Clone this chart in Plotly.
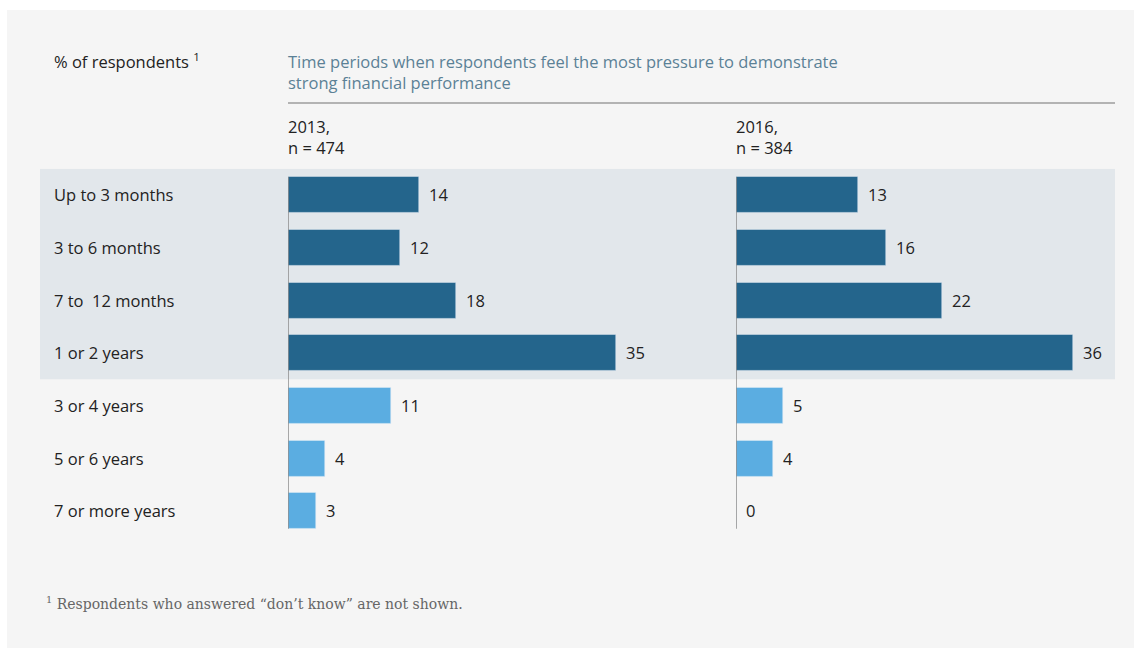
import plotly.graph_objects as go

categories = ["Up to 3 months", "3 to 6 months", "7 to  12 months", "1 or 2 years",
              "3 or 4 years", "5 or 6 years", "7 or more years"]
values_2013 = [14, 12, 18, 35, 11, 4, 3]
values_2016 = [13, 16, 22, 36, 5, 4, 0]
short_term = [True, True, True, True, False, False, False]
panel_titles = ["2013,<br>n = 474", "2016,<br>n = 384"]

DARK = "#24658c"
LIGHT = "#5badE1"
TXT = "#222222"
FONT = "Open Sans"
FS = 16.5

W, H = 1134, 648
def px(x):
    return x / W
def py(y):
    return 1 - y / H

colors = [DARK if s else LIGHT for s in short_term]
idx = list(range(len(categories)))

fig = go.Figure()
fig.add_trace(go.Bar(x=values_2013, y=idx, orientation="h", marker_color=colors,
                     width=0.68, xaxis="x", yaxis="y", hoverinfo="skip"))
fig.add_trace(go.Bar(x=values_2016, y=idx, orientation="h", marker_color=colors,
                     width=0.68, xaxis="x2", yaxis="y", hoverinfo="skip"))

XMAX = 40
scale = 9.36
x1d = [px(288), px(288 + XMAX * scale)]
x2d = [px(736), px(736 + XMAX * scale)]
ydom = [py(537.3), py(168.67)]

ax = dict(range=[0, XMAX], showgrid=False, zeroline=False, showticklabels=False,
          showline=False, ticks="", fixedrange=True)
fig.update_layout(
    width=W, height=H, margin=dict(l=0, r=0, t=0, b=0),
    paper_bgcolor="white", plot_bgcolor="rgba(0,0,0,0)",
    showlegend=False, bargap=0,
    xaxis=dict(domain=x1d, anchor="y", **ax),
    xaxis2=dict(domain=x2d, anchor="y", **ax),
    yaxis=dict(domain=ydom, range=[6.5, -0.5], showgrid=False, zeroline=False,
               showticklabels=False, ticks="", fixedrange=True),
    font=dict(family=FONT, color=TXT),
)

shapes = []
shapes.append(dict(type="rect", xref="paper", yref="paper", x0=px(7), x1=1, y0=0, y1=py(10),
                   fillcolor="#f5f5f5", line_width=0, layer="below"))
shapes.append(dict(type="rect", xref="paper", yref="y", x0=px(40), x1=px(1115), y0=-0.5, y1=3.5,
                   fillcolor="#e2e7eb", line_width=0, layer="below"))
shapes.append(dict(type="line", xref="paper", yref="paper", x0=px(288), x1=px(1115),
                   y0=py(103), y1=py(103), line=dict(color="#b3b3b3", width=2)))
for xr in ["x", "x2"]:
    shapes.append(dict(type="line", xref=xr, yref="y", x0=0, x1=0, y0=-0.34, y1=6.34,
                       line=dict(color="#8c8c8c", width=1.5)))
fig.update_layout(shapes=shapes)

ann = []
for i, c in enumerate(categories):
    ann.append(dict(text=c, xref="paper", yref="y", x=px(52), y=i, xanchor="left",
                    yanchor="middle", showarrow=False, font=dict(size=FS, color=TXT)))
for xr, vals in [("x", values_2013), ("x2", values_2016)]:
    for i, v in enumerate(vals):
        ann.append(dict(text=str(v), xref=xr, yref="y", x=v, y=i, xanchor="left",
                        yanchor="middle", xshift=8, showarrow=False,
                        font=dict(size=FS, color=TXT)))
ann.append(dict(text="% of respondents <sup>1</sup>", xref="paper", yref="paper",
                x=px(52), y=py(61), xanchor="left", yanchor="middle", showarrow=False,
                font=dict(size=FS, color=TXT)))
ann.append(dict(text="Time periods when respondents feel the most pressure to demonstrate<br>strong financial performance",
                xref="paper", yref="paper", x=px(286), y=py(72), xanchor="left", yanchor="middle",
                align="left", showarrow=False, font=dict(size=FS, color="#5b8196")))
for xpos, t in zip([286, 734], panel_titles):
    ann.append(dict(text=t, xref="paper", yref="paper", x=px(xpos), y=py(137), xanchor="left",
                    yanchor="middle", align="left", showarrow=False, font=dict(size=FS, color=TXT)))
ann.append(dict(text="<sup>1</sup> Respondents who answered “don’t know” are not shown.",
                xref="paper", yref="paper", x=px(44), y=py(603), xanchor="left", yanchor="middle",
                showarrow=False, font=dict(size=14, color="#666666", family="DejaVu Serif")))
fig.update_layout(annotations=ann)

fig.write_html("out.html", config={"displayModeBar": False},
               post_script="document.body.style.margin='0';")
